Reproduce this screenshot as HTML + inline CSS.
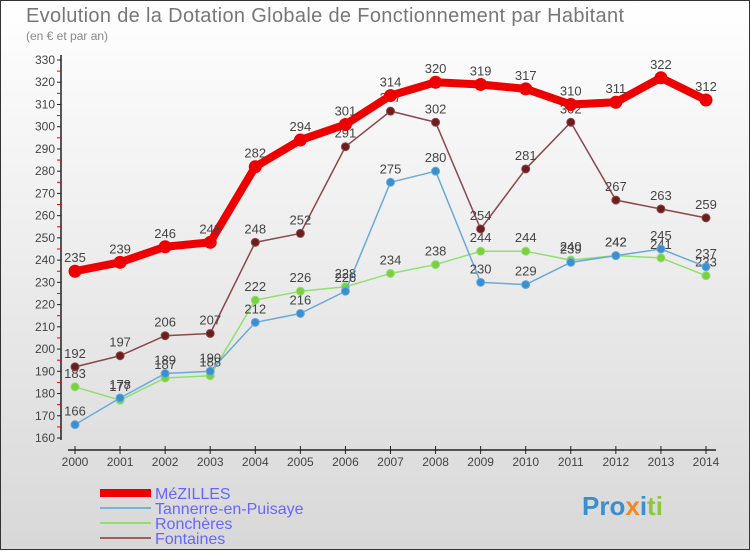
<!DOCTYPE html>
<html><head><meta charset="utf-8"><style>
body{margin:0}
svg text{font-family:"Liberation Sans",sans-serif}
</style></head><body>
<svg width="750" height="550" xmlns="http://www.w3.org/2000/svg">
<defs><linearGradient id="bg" x1="0" y1="0" x2="0" y2="1"><stop offset="0" stop-color="#ffffff"/><stop offset="1" stop-color="#d8d8d8"/></linearGradient></defs>
<rect x="0.5" y="0.5" width="749" height="549" fill="url(#bg)" stroke="#333"/>
<text x="26" y="22" font-size="20" fill="#777" textLength="598">Evolution de la Dotation Globale de Fonctionnement par Habitant</text>
<text x="26" y="40" font-size="12" fill="#888">(en € et par an)</text>
<g id="axes"></g><g id="series"></g>
<g>
<line x1="100" y1="493" x2="151" y2="493" stroke="#e00" stroke-width="8"/>
<text x="155" y="499" font-size="16" fill="#66f">MéZILLES</text>
<line x1="100" y1="508" x2="151" y2="508" stroke="#7ab0d8" stroke-width="2"/>
<text x="155" y="514" font-size="16" fill="#66f">Tannerre-en-Puisaye</text>
<line x1="100" y1="523" x2="151" y2="523" stroke="#90e070" stroke-width="2"/>
<text x="155" y="529" font-size="16" fill="#66f">Ronchères</text>
<line x1="100" y1="538" x2="151" y2="538" stroke="#9a6060" stroke-width="2"/>
<text x="155" y="544" font-size="16" fill="#66f">Fontaines</text>
</g>
<g><text x="582" y="515" font-size="26" font-weight="bold" fill="#3a8fd0">Pro<tspan fill="#f08a20">x</tspan><tspan fill="#3a8fd0">i</tspan><tspan fill="#8cc83c">ti</tspan></text></g>
</svg>
<script>
const years=[2000,2001,2002,2003,2004,2005,2006,2007,2008,2009,2010,2011,2012,2013,2014];
const mezilles=[235,239,246,248,282,294,301,314,320,319,317,310,311,322,312];
const tannerre=[166,178,189,190,212,216,226,275,280,230,229,239,242,245,237];
const roncheres=[183,177,187,188,222,226,228,234,238,244,244,240,242,241,233];
const fontaines=[192,197,206,207,248,252,291,307,302,254,281,302,267,263,259];
const yTicks=[160,170,180,190,200,210,220,230,240,250,260,270,280,290,300,310,320,330];
const NS="http://www.w3.org/2000/svg";
const X=i=>75+i*(706-75)/(years.length-1);
const Y=v=>438-(v-160)*(378/170);
function mk(t,a,p){const e=document.createElementNS(NS,t);for(const k in a)e.setAttribute(k,a[k]);p.appendChild(e);return e;}
const ax=document.getElementById('axes');
const yl=mk('line',{x1:61,y1:55,x2:61,y2:440,stroke:'#222','stroke-width':1.5},ax);


const xl=mk('line',{x1:68,y1:450,x2:716,y2:450,stroke:'#222','stroke-width':1.5},ax);


yTicks.forEach((v,i)=>{
  mk('line',{x1:57,y1:Y(v),x2:61,y2:Y(v),stroke:'#222'},ax);
  if(i<yTicks.length-1)mk('line',{x1:57,y1:Y(v+5),x2:61,y2:Y(v+5),stroke:'#e00'},ax);
  const t=mk('text',{x:55,y:Y(v)+4,'font-size':12,fill:'#444','text-anchor':'end'},ax);
  t.textContent=v;
  
  
});
years.forEach((y,i)=>{
  mk('line',{x1:X(i),y1:446,x2:X(i),y2:454,stroke:'#222'},ax);
  const t=mk('text',{x:X(i),y:466,'font-size':12,fill:'#444','text-anchor':'middle'},ax);
  t.textContent=y;
  
  
});
const sg=document.getElementById('series');
function series(vals,color,dot,w,r,name){
  const g=mk('g',{},sg);
  
  
  const pts=vals.map((v,i)=>X(i)+','+Y(v)).join(' ');
  mk('polyline',{points:pts,fill:'none',stroke:color,'stroke-width':w,'stroke-linejoin':'round'},g);
  vals.forEach((v,i)=>{
    const c=mk('circle',{cx:X(i),cy:Y(v),r:r,fill:dot,stroke:color,'stroke-width':1},g);
    
    
    const t=mk('text',{x:X(i),y:Y(v)-9,'font-size':13,fill:'#444','text-anchor':'middle'},g);
    t.textContent=v;
    
    
  });
}
series(fontaines,'#8a4848','#6a1e1e',1.5,4,'series-fontaines');
series(roncheres,'#90e070','#7cd040',1.5,4,'series-roncheres');
series(tannerre,'#6aaad8','#3a8fd0',1.5,4,'series-tannerre');
series(mezilles,'#ee0000','#ee0000',8,6,'series-mezilles');
</script>
</body></html>
